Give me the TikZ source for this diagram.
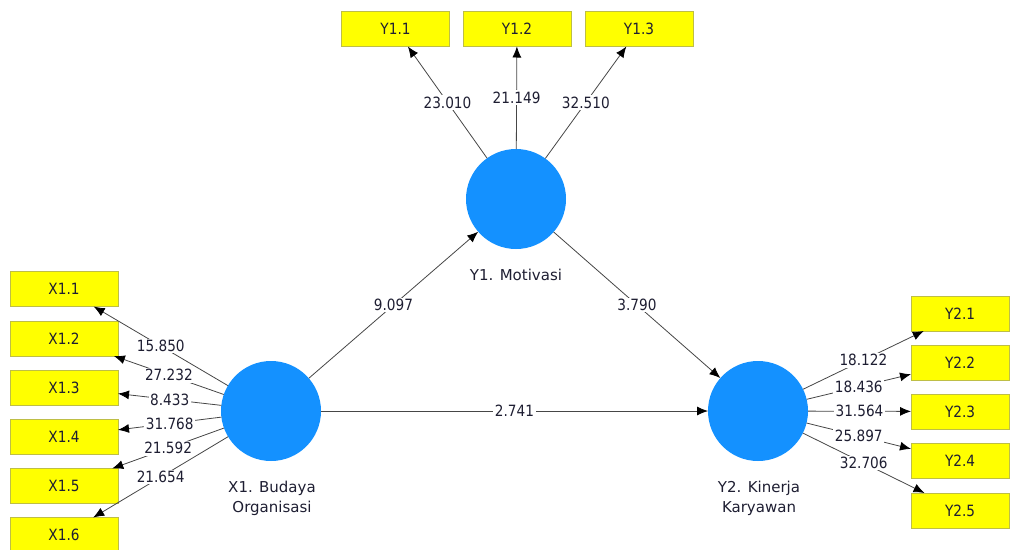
\documentclass[tikz,border=0pt]{standalone}
\usepackage{fontspec}
\setmainfont{DejaVu Sans}
\newfontfamily\numfont{DejaVu Sans}[FakeStretch=0.88]
\usetikzlibrary{arrows.meta}
\definecolor{boxyellow}{RGB}{255,255,0}
\definecolor{boxedge}{RGB}{190,190,70}
\definecolor{lvblue}{RGB}{20,145,255}
\definecolor{linegray}{RGB}{70,70,70}
\definecolor{txt}{RGB}{30,30,50}
\begin{document}
\begin{tikzpicture}[x=1pt,y=-1pt,
 ind/.style={draw=boxedge, fill=boxyellow, minimum width=108pt, minimum height=35pt, inner sep=0pt, outer sep=0pt, font=\numfont\fontsize{15.5}{17}\selectfont, text=txt},
 lv/.style={circle, fill=lvblue, draw=none, minimum size=100pt, inner sep=0pt, outer sep=0pt},
 arr/.style={draw=linegray, line width=0.8pt, -{Latex[length=11pt,width=9pt,black]}},
 val/.style={fill=white, inner sep=1.5pt, font=\numfont\fontsize{15.5}{17}\selectfont, text=txt},
 lvlab/.style={font=\fontsize{15}{20}\selectfont, text=txt, align=center}]
\useasboundingbox (0,0) rectangle (1011,549);
% latent variables
\node[lv] (Y1) at (516,199) {};
\node[lv] (X1) at (271,411) {};
\node[lv] (Y2) at (758,411) {};
\node[lvlab] (Y1l) at (516,275) {Y1. Motivasi};
\node[lvlab] (X1l) at (272,498) {X1. Budaya\\Organisasi};
\node[lvlab] (Y2l) at (759,498) {Y2. Kinerja\\Karyawan};
% indicators Y1
\node[ind] (y11) at (395.5,29) {Y1.1};
\node[ind] (y12) at (517,29) {Y1.2};
\node[ind] (y13) at (639,29) {Y1.3};
% indicators X1
\node[ind] (x11) at (64,289) {X1.1};
\node[ind] (x12) at (64,338.5) {X1.2};
\node[ind] (x13) at (64,387.5) {X1.3};
\node[ind] (x14) at (64,436.5) {X1.4};
\node[ind] (x15) at (64,486) {X1.5};
\node[ind] (x16) at (64,535) {X1.6};
% indicators Y2
\node[ind, minimum width=98pt] (y21) at (960,313.5) {Y2.1};
\node[ind, minimum width=98pt] (y22) at (960,362.5) {Y2.2};
\node[ind, minimum width=98pt] (y23) at (960,411.5) {Y2.3};
\node[ind, minimum width=98pt] (y24) at (960,461) {Y2.4};
\node[ind, minimum width=98pt] (y25) at (960,510.5) {Y2.5};
% structural paths
\draw[arr] (X1) -- node[val]{9.097} (Y1);
\draw[arr] (Y1) -- node[val]{3.790} (Y2);
\draw[arr] (X1) -- node[val]{2.741} (Y2);
% Y1 loadings
\draw[arr] (Y1) -- node[val]{23.010} (y11);
\draw[arr] (Y1) -- node[val]{21.149} (y12);
\draw[arr] (Y1) -- node[val]{32.510} (y13);
% X1 loadings
\draw[arr] (X1) -- node[val]{15.850} (x11);
\draw[arr] (X1) -- node[val]{27.232} (x12);
\draw[arr] (X1) -- node[val]{8.433} (x13);
\draw[arr] (X1) -- node[val]{31.768} (x14);
\draw[arr] (X1) -- node[val]{21.592} (x15);
\draw[arr] (X1) -- node[val]{21.654} (x16);
% Y2 loadings
\draw[arr] (Y2) -- node[val]{18.122} (y21);
\draw[arr] (Y2) -- node[val]{18.436} (y22);
\draw[arr] (Y2) -- node[val]{31.564} (y23);
\draw[arr] (Y2) -- node[val]{25.897} (y24);
\draw[arr] (Y2) -- node[val]{32.706} (y25);
\end{tikzpicture}
\end{document}
